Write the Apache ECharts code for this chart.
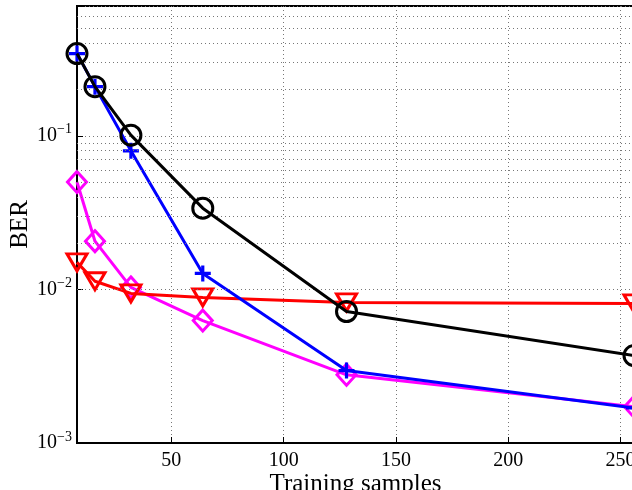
<!DOCTYPE html>
<html>
<head>
<meta charset="utf-8">
<script src="https://cdn.jsdelivr.net/npm/echarts@6/dist/echarts.min.js"></script>
<style>
html,body{margin:0;padding:0;background:#fff;}
#main{width:632px;height:490px;}
</style>
</head>
<body>
<div id="main"></div>
<script>
// training samples
var samples = [8, 16, 32, 64, 128, 256];
// BER curves
var berBlack = [0.343, 0.209, 0.101, 0.0338, 0.00718, 0.00371];
var berBlue = [0.343, 0.209, 0.0798, 0.0127, 0.00296, 0.00169];
var berMagenta = [0.050, 0.0206, 0.0103, 0.00627, 0.00278, 0.00172];
var berRed = [0.0150, 0.0113, 0.00942, 0.00887, 0.00822, 0.0081];
// minor grid values on the log axis
var minorGrid = [0.002,0.003,0.004,0.005,0.006,0.007,0.008,0.009,
                 0.02,0.03,0.04,0.05,0.06,0.07,0.08,0.09,
                 0.2,0.3,0.4,0.5,0.6];

var font = '"Liberation Serif","DejaVu Serif",serif';
var gridDash = {color:'#777', width:1, type:[1,3]};

function pairs(ys){
    var out = [];
    for (var i=0;i<samples.length;i++) out.push([samples[i], ys[i]]);
    return out;
}
function mkSeries(name, ys, color, symbol, size){
    return {
        name:name, type:'line', data:pairs(ys),
        symbol:symbol, symbolSize:size, showAllSymbol:true,
        lineStyle:{color:color, width:3},
        itemStyle:{color:'rgba(0,0,0,0)', borderColor:color, borderWidth:3},
        emphasis:{disabled:true},
        clip:false, animation:false
    };
}

var chart = echarts.init(document.getElementById('main'));
var magenta = mkSeries('m', berMagenta, '#ff00ff', 'path://M5,0L10,5L5,10L0,5Z', [19,21]);
magenta.markLine = {
    silent:true, symbol:'none', label:{show:false}, animation:false,
    lineStyle:gridDash,
    data: minorGrid.map(function(v){ return {yAxis:v}; })
};
magenta.z = 2;
var red = mkSeries('r', berRed, '#ff0000', 'path://M0,0L10,0L5,8.5Z', [20,17]);
red.z = 3;
var blue = mkSeries('b', berBlue, '#0000ff', 'path://M4,0H6V4H10V6H6V10H4V6H0V4H4Z', [16,16]);
blue.itemStyle = {color:'#0000ff', borderWidth:0};
blue.z = 4;
var black = mkSeries('k', berBlack, '#000000', 'circle', 20);
black.z = 5;

chart.setOption({
    backgroundColor:'#fff',
    animation:false,
    grid:{left:77, top:6, right:-2, bottom:47, outerBoundsMode:'none',
        show:true, borderColor:'#000', borderWidth:2, backgroundColor:'#fff'},
    xAxis:{
        type:'value', min:8, max:256,
        name:'Training samples', nameLocation:'middle', nameGap:29, nameMoveOverlap:false,
        nameTextStyle:{fontFamily:font, fontSize:25, color:'#000'},
        axisLine:{lineStyle:{color:'#000', width:2}},
        axisTick:{inside:true, length:6, lineStyle:{color:'#000'}},
        axisLabel:{fontFamily:font, fontSize:20, color:'#000', margin:8,
            formatter:function(v){ return (v % 50 === 0) ? String(v) : ''; }},
        splitLine:{show:true, lineStyle:gridDash}
    },
    yAxis:{
        type:'log', logBase:10, min:0.001, max:0.7,
        name:'BER', nameLocation:'middle', nameGap:44, nameRotate:90, nameMoveOverlap:false,
        nameTextStyle:{fontFamily:font, fontSize:25, color:'#000'},
        axisLine:{lineStyle:{color:'#000', width:2}},
        axisTick:{inside:true, length:6, lineStyle:{color:'#000'}},
        axisLabel:{margin:5, color:'#000',
            formatter:function(v){
                var e = Math.log(v)/Math.LN10;
                var r = Math.round(e);
                if (Math.abs(e-r) > 1e-6) return '';
                return '{b|10}{s|' + (r < 0 ? '\u2212' + (-r) : r) + '}';
            },
            rich:{
                b:{fontFamily:font, fontSize:20, color:'#000'},
                s:{fontFamily:font, fontSize:14, color:'#000', padding:[0,0,12,0]}
            }},
        splitLine:{show:true, lineStyle:gridDash}
    },
    series:[magenta, red, blue, black]
});
</script>
</body>
</html>
